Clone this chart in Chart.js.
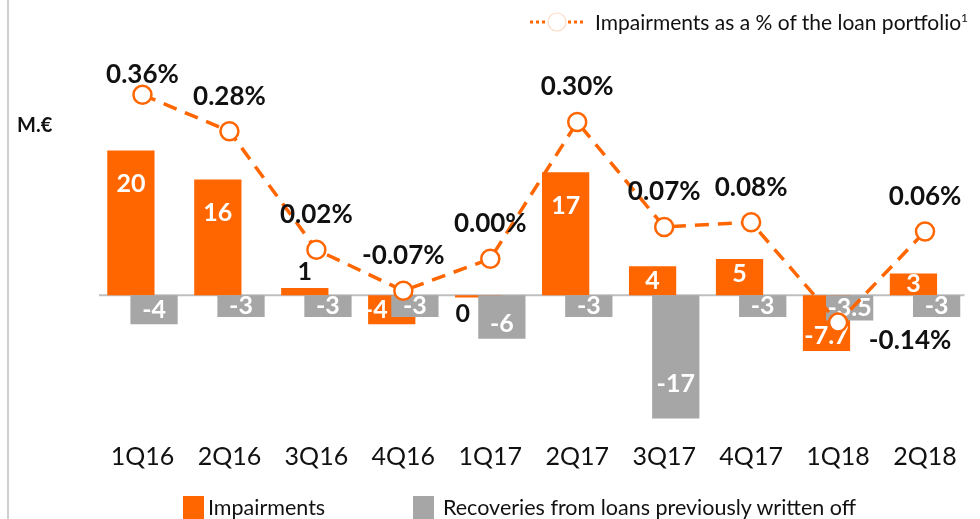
<!DOCTYPE html>
<html>
<head>
<meta charset="utf-8">
<script src="https://cdn.jsdelivr.net/npm/chart.js@4.4.0/dist/chart.umd.min.js"></script>
<style>
  body { margin: 0; background: #fff; font-family: Lato, "Open Sans", sans-serif; }
  #wrap { position: relative; width: 980px; height: 519px; overflow: hidden; }
  #frame { position: absolute; left: 7px; top: 0; width: 2px; height: 519px; background: #cfcfcf; }
  #unit { position: absolute; left: 17px; top: 112px; font-weight: bold; font-size: 20px; color: #111; }
  #topLegend { position: absolute; left: 528px; top: 9px; font-size: 21px; color: #111; display: flex; align-items: center; white-space: nowrap; }
  #topLegend sup { font-size: 12px; }
  .bottomLegend { position: absolute; top: 494px; font-size: 21.5px; color: #111; white-space: nowrap; }
  .sw { position: absolute; top: 2px; width: 21px; height: 24px; }
</style>
</head>
<body>
<div id="wrap">
  <canvas id="barChart" width="980" height="519"></canvas>
  <div id="frame"></div>
  <div id="unit">M.€</div>
  <div id="topLegend">
    <svg width="60" height="24"><line x1="2" y1="12" x2="18" y2="12" stroke="#FF6600" stroke-width="3" stroke-dasharray="3,3"/><circle cx="29" cy="12" r="9" fill="#fff" stroke="#fcd9c4" stroke-width="1.2"/><line x1="40" y1="12" x2="56" y2="12" stroke="#FF6600" stroke-width="3" stroke-dasharray="3,3"/></svg>
    <span style="margin-left:7px">Impairments as a % of the loan portfolio<sup>1</sup></span>
  </div>
  <div class="bottomLegend" style="left:183px"><span class="sw" style="left:0;background:#FF6600"></span><span style="margin-left:25px">Impairments</span></div>
  <div class="bottomLegend" style="left:413px"><span class="sw" style="left:0;background:#A6A6A6"></span><span style="margin-left:30px">Recoveries from loans previously written off</span></div>
</div>
<script>
// Dữ liệu
var quarters = ['1Q16', '2Q16', '3Q16', '4Q16', '1Q17', '2Q17', '3Q17', '4Q17', '1Q18', '2Q18'];
var impairments = [20, 16, 1, -4, -0.3, 17, 4, 5, -7.7, 3];
var recoveries = [-4, -3, -3, -3, -6, -3, -17, -3, -3.5, -3];
var impairmentRatio = [0.36, 0.28, 0.02, -0.07, 0.00, 0.30, 0.07, 0.08, -0.14, 0.06];

var ORANGE = '#FF6600';
var GREY = '#A6A6A6';
var IMP = 1, REC = 2; // chi so dataset

function fmtBar(v) {
    if (Math.abs(v) < 0.5) return '0';
    return String(v);
}

function drawLabels(chart, index) {
    var ctx = chart.ctx;
    var meta = chart.getDatasetMeta(index);
    var ds = chart.data.datasets[index];
    ctx.save();
    ctx.textAlign = 'center';
    ctx.textBaseline = 'middle';
    meta.data.forEach(function (el, i) {
        var v = ds.data[i];
        if (meta.type === 'bar') {
            ctx.font = 'bold 25px Lato';
            var h = Math.abs(el.y - el.base);
            var x = el.x, y;
            // nhan cot cam am ngan: day sang trai cho khoi bi cot xam che
            if (index === IMP && v < 0 && h < 40) x -= 16;
            if (h < 12) {
                ctx.fillStyle = '#111';
                y = v >= 0 ? el.y - 16 : el.base + 19;
            } else {
                ctx.fillStyle = '#fff';
                var off = h > 100 ? 34 : Math.min(h / 2, 15);
                y = v >= 0 ? el.y + off : el.y - off;
            }
            ctx.fillText(fmtBar(v), x, y);
        } else {
            ctx.font = 'bold 26px Lato';
            ctx.fillStyle = '#111';
            var dx = 0, dy = -35;
            if (i === 0) dy = -20;
            if (i === 8) { dx = 72; dy = 18; }
            ctx.fillText(v.toFixed(2) + '%', el.x + dx, el.y + dy);
        }
    });
    ctx.restore();
}

// duong zero mau xam
var zeroLine = {
    id: 'zeroLine',
    beforeDatasetsDraw: function (chart) {
        var ctx = chart.ctx, a = chart.chartArea;
        var y0 = chart.scales.y.getPixelForValue(0);
        ctx.save();
        ctx.strokeStyle = '#BFBFBF';
        ctx.lineWidth = 2;
        ctx.beginPath();
        ctx.moveTo(a.left, y0);
        ctx.lineTo(a.right - 4, y0);
        ctx.stroke();
        ctx.restore();
    }
};

// cot cam ve truoc, cot xam de len tren
var valueLabels = {
    id: 'valueLabels',
    beforeDatasetDraw: function (chart, args) {
        if (args.index === IMP) return false;
        if (args.index === REC) {
            chart.getDatasetMeta(IMP).controller.draw();
            drawLabels(chart, IMP);
        }
    },
    afterDatasetDraw: function (chart, args) {
        drawLabels(chart, args.index);
    }
};

var barChart = new Chart(document.getElementById('barChart'), {
    type: 'bar',
    data: {
        labels: quarters,
        datasets: [{
            type: 'line',
            label: 'Impairments as a % of the loan portfolio',
            data: impairmentRatio,
            yAxisID: 'y2',
            borderColor: ORANGE,
            borderWidth: 3.5,
            borderDash: [14, 9],
            pointRadius: 9,
            pointBorderWidth: 2.5,
            pointBackgroundColor: '#fff',
            pointBorderColor: ORANGE,
            fill: false,
            tension: 0,
            order: 0
        }, {
            label: 'Impairments',
            data: impairments,
            backgroundColor: ORANGE,
            categoryPercentage: 0.533,
            barPercentage: 2.04,
            order: 1
        }, {
            label: 'Recoveries from loans previously written off',
            data: recoveries,
            backgroundColor: GREY,
            categoryPercentage: 0.533,
            barPercentage: 2.04,
            order: 2
        }]
    },
    options: {
        responsive: false,
        animation: false,
        layout: { padding: { left: 99, right: 0, top: 37, bottom: 45 } },
        plugins: {
            legend: { display: false },
            tooltip: { enabled: false }
        },
        scales: {
            x: {
                grid: { display: false },
                border: { display: false },
                ticks: { color: '#111', font: { family: 'Lato', size: 25 }, padding: 2 }
            },
            y: { display: false, min: -18.88, max: 35.66 },
            y2: { display: false, min: -0.38, max: 0.4867 }
        }
    },
    plugins: [zeroLine, valueLabels]
});
</script>
</body>
</html>
